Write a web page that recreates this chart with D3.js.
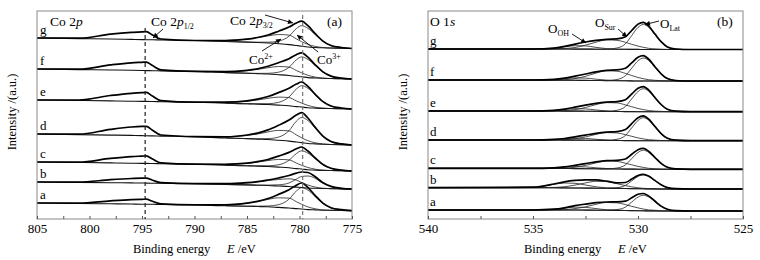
<!DOCTYPE html>
<html>
<head>
<meta charset="utf-8">
<script src="https://cdn.jsdelivr.net/npm/d3@7"></script>
<style>
body { margin: 0; background: #fff; }
text { font-family: "Liberation Serif", "Times New Roman", serif; fill: #000; }
</style>
</head>
<body>
<div id="chart"></div>
<script>
// ---------- data (intensity in a.u., spectra ordered a..g) ----------
var sampleLabels = ["a", "b", "c", "d", "e", "f", "g"];

// Co 2p panel
var coEnergy = [805, 801, 798, 796, 795, 794.6, 794, 793.2, 790, 787, 785, 784, 783, 782, 781, 780.3, 779.8, 779.2, 778.5, 777.8, 777, 776, 775];
var coCompStart = 9; // fitted components start at 787 eV
var coTicks = [805, 800, 795, 790, 785, 780, 775];
var coMinorTicks = [802.5, 797.5, 792.5, 787.5, 782.5, 777.5];
var coDashed = [794.7, 779.7];

var coBackground = [
  [16, 15.5, 15.2, 15, 14.8, 14.8, 14.7, 14.5, 14.2, 13.2, 12.8, 12.5, 12.2, 11.6, 11, 10.4, 10, 9.4, 9.1, 8.8, 8.7, 8.5, 8.3],
  [37, 36.6, 36.3, 36.1, 36, 35.9, 35.8, 35.7, 35.3, 34.5, 34.1, 33.8, 33.5, 33, 32.5, 31.9, 31.5, 31, 30.7, 30.5, 30.4, 30.1, 30],
  [57, 56.5, 56.1, 55.8, 55.6, 55.6, 55.5, 55.3, 54.8, 53.8, 53.2, 52.9, 52.5, 51.9, 51.2, 50.4, 50, 49.3, 48.9, 48.6, 48.5, 48.2, 48],
  [85, 84.3, 83.9, 83.6, 83.4, 83.2, 83.1, 82.9, 82.4, 81, 80.4, 79.9, 79.5, 78.7, 77.9, 77, 76.4, 75.5, 75.1, 74.8, 74.5, 74.2, 74],
  [119, 118.5, 118.1, 117.8, 117.6, 117.6, 117.5, 117.3, 116.8, 115.8, 115.2, 114.9, 114.5, 113.9, 113.2, 112.4, 112, 111.3, 110.9, 110.6, 110.5, 110.2, 110],
  [150, 149.4, 149, 148.7, 148.5, 148.4, 148.3, 148.1, 147.6, 146.4, 145.8, 145.4, 145, 144.3, 143.5, 142.7, 142.2, 141.4, 141, 140.7, 140.5, 140.2, 140],
  [181, 180.4, 180, 179.6, 179.4, 179.3, 179.2, 179, 178.5, 177.5, 176.9, 176.5, 176, 175.3, 174.4, 173.5, 172.8, 172, 171.5, 171.2, 171, 170.7, 170.5]
];
var coEnvelope = [
  [0, 0.3, 3, 4.4, 4.9, 5, 3, 0.6, 0, 1, 3.1, 5.2, 8.3, 13, 18.2, 23.4, 26, 22.1, 14.3, 7.3, 2.6, 0.8, 0],
  [0, 0.3, 3, 4.4, 4.9, 5, 3, 0.6, 0, 0.8, 2.2, 3.5, 5.5, 8, 11, 14, 15.5, 15.5, 11.5, 6, 2.2, 0.6, 0],
  [0, 0.4, 4.5, 6.6, 7.3, 7.5, 4.5, 0.9, 0, 0.9, 2.6, 4.4, 7, 11, 15.4, 19.8, 22, 18.7, 12.1, 6.2, 2.2, 0.7, 0],
  [0, 0.5, 5.7, 8.4, 9.2, 9.5, 5.7, 1.1, 0, 1.2, 3.6, 6, 9.6, 15, 21, 27, 30, 25.5, 16.5, 8.4, 3, 0.9, 0],
  [0, 0.5, 5.4, 7.9, 8.7, 9, 5.4, 1.1, 0, 1, 3, 5, 8, 12.5, 17.5, 22.5, 25, 21.3, 13.8, 7, 2.5, 0.8, 0],
  [0, 0.4, 5.1, 7.5, 8.2, 8.5, 5.1, 1, 0, 1, 2.9, 4.8, 7.7, 12, 16.8, 21.6, 24, 20.4, 13.2, 6.7, 2.4, 0.7, 0],
  [0, 0.4, 4.8, 7, 7.8, 8, 4.8, 1, 0, 1, 3, 5, 8, 12.5, 17.5, 22.5, 25, 21.3, 13.8, 7, 2.5, 0.8, 0]
];
var coCo2 = [
  [1.1, 3, 4.9, 7.4, 9.6, 9.9, 6.9, 4.7, 2.7, 1.1, 0.3, 0, 0, 0],
  [0.7, 2, 3.3, 5, 6.5, 7.7, 7, 5, 3, 1.2, 0.3, 0, 0, 0],
  [0.9, 2.4, 4, 5.9, 7.7, 7.9, 5.5, 3.7, 2.2, 0.9, 0.2, 0, 0, 0],
  [1.1, 3.1, 5.1, 7.6, 9.9, 10.2, 7.1, 4.8, 2.8, 1.1, 0.3, 0, 0, 0],
  [0.9, 2.5, 4.1, 6.2, 8, 8.2, 5.7, 3.9, 2.3, 0.9, 0.2, 0, 0, 0],
  [0.9, 2.6, 4.2, 6.3, 8.2, 8.4, 5.8, 4, 2.3, 0.9, 0.2, 0, 0, 0],
  [1.1, 2.9, 4.8, 7.1, 9.2, 9.5, 6.6, 4.5, 2.6, 1.1, 0.3, 0, 0, 0]
];
var coCo3 = [
  [0, 0, 0.3, 0.8, 2.7, 8.8, 17.6, 21.3, 19.5, 13.3, 6.9, 2.4, 0.5, 0],
  [0, 0, 0.1, 0.4, 1.2, 3.5, 8, 11, 12, 10, 5.5, 2, 0.5, 0],
  [0, 0, 0.2, 0.7, 2.3, 7.5, 15, 18.2, 16.6, 11.4, 5.9, 2.1, 0.5, 0],
  [0, 0, 0.3, 0.9, 3.2, 10.4, 20.8, 25.2, 23, 15.8, 8.2, 2.8, 0.6, 0],
  [0, 0, 0.3, 0.8, 2.7, 8.8, 17.6, 21.3, 19.4, 13.3, 6.9, 2.4, 0.5, 0],
  [0, 0, 0.2, 0.7, 2.5, 8.2, 16.4, 19.9, 18.2, 12.5, 6.5, 2.2, 0.5, 0],
  [0, 0, 0.3, 0.8, 2.6, 8.4, 16.9, 20.5, 18.7, 12.8, 6.7, 2.3, 0.5, 0]
];

// O 1s panel
var oEnergy = [540, 535, 534, 533.5, 533, 532.5, 532, 531.5, 531, 530.6, 530.3, 530, 529.75, 529.5, 529.2, 528.9, 528.6, 528.2, 527.5, 525];
var oTicks = [540, 535, 530, 525];
var oMinorTicks = [537.5, 532.5, 527.5];

var oBackground = [
  [9, 9, 9, 9, 9, 8.9, 8.8, 8.7, 8.6, 8.5, 8.4, 8.3, 8.2, 8.1, 8.1, 8, 8, 8, 8, 8],
  [31.3, 31.3, 31.2, 31.1, 31, 30.9, 30.8, 30.7, 30.6, 30.5, 30.4, 30.3, 30.2, 30.1, 30.1, 30, 30, 30, 30, 30],
  [50.7, 50.7, 50.6, 50.5, 50.4, 50.3, 50.2, 50.1, 50, 49.9, 49.9, 49.8, 49.8, 49.7, 49.7, 49.7, 49.7, 49.7, 49.7, 49.7],
  [79, 79, 79, 78.9, 78.9, 78.8, 78.7, 78.6, 78.5, 78.4, 78.4, 78.3, 78.3, 78.3, 78.3, 78.3, 78.3, 78.3, 78.3, 78.3],
  [108, 108, 108, 107.9, 107.9, 107.8, 107.7, 107.6, 107.5, 107.4, 107.4, 107.3, 107.3, 107.3, 107.3, 107.3, 107.3, 107.3, 107.3, 107.3],
  [139, 139, 138.9, 138.8, 138.7, 138.6, 138.5, 138.4, 138.3, 138.2, 138.1, 138, 138, 138, 138, 138, 138, 138, 138, 138],
  [170, 170, 170, 170, 169.9, 169.9, 169.8, 169.8, 169.7, 169.7, 169.6, 169.6, 169.5, 169.5, 169.5, 169.5, 169.5, 169.5, 169.5, 169.5]
];
var oEnvelope = [
  [0, 0, 0.8, 2.2, 4.3, 6, 7.5, 8.3, 8.5, 9.3, 12.8, 16.4, 17.3, 15, 9.9, 4.9, 1.7, 0.3, 0, 0],
  [0, 0.5, 3.8, 6.1, 7.6, 8.3, 8.3, 7.1, 5.5, 6, 9.5, 13.2, 14.5, 12.9, 8.5, 4.2, 1.4, 0.3, 0, 0],
  [0, 0, 0.6, 1.6, 3.3, 5.1, 6.9, 8.2, 8.7, 10.1, 14.8, 19.5, 20.8, 18.1, 12, 5.9, 2, 0.4, 0, 0],
  [0, 0, 0.6, 1.6, 3.3, 5.1, 6.9, 8.2, 8.9, 11, 17, 23, 24.8, 21.7, 14.4, 7.1, 2.4, 0.5, 0, 0],
  [0, 0, 0.7, 2, 3.9, 6, 8, 9.3, 9.9, 11.8, 17.6, 23.4, 25.1, 21.9, 14.4, 7.2, 2.4, 0.5, 0, 0],
  [0, 0, 0.7, 2, 4.1, 6.4, 8.7, 10.3, 10.8, 12.5, 18.1, 23.7, 25.3, 22, 14.5, 7.2, 2.4, 0.5, 0, 0],
  [0, 0, 0.9, 2.6, 5, 7.1, 8.8, 9.9, 10.4, 12.5, 18.9, 25.3, 27.2, 23.7, 15.7, 7.8, 2.6, 0.5, 0, 0]
];
var oLat = [
  [0, 0, 0, 0, 0, 0, 0, 0, 0.8, 3.4, 8.5, 13.6, 15.5, 14, 9.3, 4.7, 1.6, 0.3, 0, 0],
  [0, 0, 0, 0, 0, 0, 0, 0, 0.7, 3.1, 7.7, 12.3, 14, 12.6, 8.4, 4.2, 1.4, 0.3, 0, 0],
  [0, 0, 0, 0, 0, 0, 0, 0, 1, 4.2, 10.5, 16.7, 19, 17.1, 11.4, 5.7, 1.9, 0.4, 0, 0],
  [0, 0, 0, 0, 0, 0, 0, 0, 1.2, 5.1, 12.7, 20.2, 23, 20.7, 13.8, 6.9, 2.3, 0.5, 0, 0],
  [0, 0, 0, 0, 0, 0, 0, 0, 1.2, 5.1, 12.7, 20.2, 23, 20.7, 13.8, 6.9, 2.3, 0.5, 0, 0],
  [0, 0, 0, 0, 0, 0, 0, 0, 1.2, 5.1, 12.7, 20.2, 23, 20.7, 13.8, 6.9, 2.3, 0.5, 0, 0],
  [0, 0, 0, 0, 0, 0, 0, 0, 1.3, 5.5, 13.8, 22, 25, 22.5, 15, 7.5, 2.5, 0.5, 0, 0]
];
var oSur = [
  [0, 0, 0.1, 0.4, 1.4, 3.3, 5.9, 7.8, 7.6, 5.9, 4.3, 2.8, 1.8, 1, 0.6, 0.2, 0.1, 0, 0, 0],
  [0, 0, 0.4, 1.2, 2.9, 5.2, 6.9, 6.7, 4.7, 2.9, 1.8, 0.9, 0.5, 0.3, 0.1, 0, 0, 0, 0, 0],
  [0, 0, 0.1, 0.4, 1.4, 3.3, 5.9, 7.8, 7.6, 5.9, 4.3, 2.8, 1.8, 1, 0.6, 0.2, 0.1, 0, 0, 0],
  [0, 0, 0.1, 0.4, 1.4, 3.3, 5.9, 7.8, 7.6, 5.9, 4.3, 2.8, 1.8, 1, 0.6, 0.2, 0.1, 0, 0, 0],
  [0, 0, 0.1, 0.5, 1.5, 3.7, 6.7, 8.8, 8.6, 6.7, 4.9, 3.2, 2.1, 1.2, 0.6, 0.3, 0.1, 0, 0, 0],
  [0, 0, 0.1, 0.5, 1.7, 4.1, 7.4, 9.8, 9.5, 7.4, 5.4, 3.5, 2.3, 1.3, 0.7, 0.3, 0.1, 0, 0, 0],
  [0, 0, 0.1, 0.5, 1.6, 3.9, 7, 9.3, 9, 7, 5.1, 3.3, 2.2, 1.2, 0.7, 0.3, 0.1, 0, 0, 0]
];
var oOH = [
  [0, 0, 0.7, 1.8, 2.9, 2.7, 1.6, 0.5, 0.1, 0, 0, 0, 0, 0, 0, 0, 0, 0, 0, 0],
  [0, 0.5, 3.4, 4.9, 4.7, 3.1, 1.4, 0.4, 0.1, 0, 0, 0, 0, 0, 0, 0, 0, 0, 0, 0],
  [0, 0, 0.5, 1.2, 1.9, 1.8, 1, 0.4, 0.1, 0, 0, 0, 0, 0, 0, 0, 0, 0, 0, 0],
  [0, 0, 0.5, 1.2, 1.9, 1.8, 1, 0.4, 0.1, 0, 0, 0, 0, 0, 0, 0, 0, 0, 0, 0],
  [0, 0, 0.6, 1.5, 2.4, 2.3, 1.3, 0.5, 0.1, 0, 0, 0, 0, 0, 0, 0, 0, 0, 0, 0],
  [0, 0, 0.6, 1.5, 2.4, 2.3, 1.3, 0.5, 0.1, 0, 0, 0, 0, 0, 0, 0, 0, 0, 0, 0],
  [0, 0, 0.8, 2.1, 3.4, 3.2, 1.8, 0.6, 0.1, 0, 0, 0, 0, 0, 0, 0, 0, 0, 0, 0]
];

// ---------- layout ----------
var plotTop = 11, plotBottom = 219;
var serif = "Liberation Serif, Times New Roman, serif";

var svg = d3.select("#chart").append("svg")
	.attr("width", 760)
	.attr("height", 260);

svg.append("defs").append("marker")
	.attr("id", "arrow")
	.attr("viewBox", "0 0 10 10")
	.attr("refX", 10).attr("refY", 5)
	.attr("markerWidth", 7).attr("markerHeight", 5)
	.attr("markerUnits", "userSpaceOnUse")
	.attr("orient", "auto")
.append("path")
	.attr("d", "M0,0L10,5L0,10z")
	.attr("fill", "#000");

var y = d3.scaleLinear().domain([0, 208]).range([plotBottom, plotTop]);

var line = d3.line().curve(d3.curveMonotoneX);

function drawPanel(p) {
	var x = d3.scaleLinear().domain(p.domain).range([p.left, p.right]);
	var g = svg.append("g");

	// spectra
	sampleLabels.forEach(function(lab, i) {
		var bg = p.bg[i];
		var bgPts = p.energy.map(function(e, j) { return [x(e), y(bg[j])]; });
		g.append("path").attr("d", line(bgPts))
			.attr("fill", "none").attr("stroke", "#111").attr("stroke-width", 1.1);

		p.comps.forEach(function(comp) {
			var pts = comp[i].map(function(v, j) {
				var k = j + p.compStart;
				return [x(p.energy[k]), y(bg[k] + v)];
			});
			g.append("path").attr("d", line(pts))
				.attr("fill", "none").attr("stroke", "#222").attr("stroke-width", 0.8);
		});

		var envPts = p.energy.map(function(e, j) { return [x(e), y(bg[j] + p.env[i][j])]; });
		g.append("path").attr("d", line(envPts))
			.attr("fill", "none").attr("stroke", "#000").attr("stroke-width", 1.7);

		g.append("text")
			.attr("x", p.left + p.labelDx)
			.attr("y", y(bg[0]) - 4)
			.attr("font-size", "13px")
			.text(lab);
	});

	// frame
	g.append("rect")
		.attr("x", p.left).attr("y", plotTop)
		.attr("width", p.right - p.left).attr("height", plotBottom - plotTop)
		.attr("fill", "none").attr("stroke", "#8a8a8a").attr("stroke-width", 1);

	// axes
	var xAxisCall = d3.axisBottom(x).tickValues(p.ticks)
		.tickSizeInner(-3).tickSizeOuter(0).tickPadding(5)
		.tickFormat(d3.format("d"));
	var xAxisGroup = g.append("g")
		.attr("transform", "translate(0," + plotBottom + ")")
		.call(xAxisCall);
	xAxisGroup.select(".domain").remove();
	xAxisGroup.selectAll("line").attr("stroke", "#555");
	xAxisGroup.selectAll("text")
		.attr("font-family", serif)
		.attr("font-size", "13px").attr("fill", "#000");

	var minorCall = d3.axisBottom(x).tickValues(p.minor)
		.tickSizeInner(-3).tickSizeOuter(0).tickFormat("");
	var minorGroup = g.append("g")
		.attr("transform", "translate(0," + plotBottom + ")")
		.call(minorCall);
	minorGroup.select(".domain").remove();
	minorGroup.selectAll("line").attr("stroke", "#555");

	// axis titles
	var xt = g.append("text")
		.attr("x", p.left + 96)
		.attr("y", 253)
		.attr("font-size", "12.5px");
	xt.append("tspan").text("Binding energy");
	xt.append("tspan").attr("x", p.left + 190).attr("font-style", "italic").text("E");
	xt.append("tspan").text(" /eV");

	g.append("text")
		.attr("transform", "translate(" + (p.left - 21) + ",112) rotate(-90)")
		.attr("text-anchor", "middle")
		.attr("font-size", "12.5px")
		.text("Intensity /(a.u.)");

	return {x: x, g: g};
}

function arrow(g, x1, y1, x2, y2) {
	g.append("line")
		.attr("x1", x1).attr("y1", y1).attr("x2", x2).attr("y2", y2)
		.attr("stroke", "#000").attr("stroke-width", 0.9)
		.attr("marker-end", "url(#arrow)");
}

function label(g, px, py, main, sub, italic, supMode, size) {
	var t = g.append("text").attr("x", px).attr("y", py).attr("font-size", (size || 13.5) + "px");
	t.append("tspan").text(main);
	if (italic) t.append("tspan").attr("font-style", "italic").text(italic);
	if (sub) {
		t.append("tspan")
			.attr("font-size", "8px")
			.attr("dy", supMode ? -5 : 3)
			.text(sub);
	}
	return t;
}

// ---------- panel (a): Co 2p ----------
var pa = drawPanel({
	left: 37, right: 352, domain: [805, 775],
	energy: coEnergy, bg: coBackground, env: coEnvelope,
	comps: [coCo2, coCo3], compStart: coCompStart,
	ticks: coTicks, minor: coMinorTicks, labelDx: 3
});

coDashed.forEach(function(e, i) {
	pa.g.append("line")
		.attr("x1", pa.x(e)).attr("x2", pa.x(e))
		.attr("y1", i === 0 ? 28 : 15).attr("y2", plotBottom)
		.attr("stroke", i === 0 ? "#222" : "#777")
		.attr("stroke-width", 1.2)
		.attr("stroke-dasharray", "4,3");
});

label(pa.g, 50, 26, "Co 2", null, "p");
label(pa.g, 151, 26, "Co 2", "1/2", "p");
label(pa.g, 230, 25, "Co 2", "3/2", "p");
label(pa.g, 249, 64, "Co", "2+", null, true, 13);
label(pa.g, 317, 64, "Co", "3+", null, true, 13);
pa.g.append("text").attr("x", 327).attr("y", 26).attr("font-size", "13.5px").text("(a)");

arrow(pa.g, 163, 29, 153, 38);
arrow(pa.g, 265, 15, 293, 23);
arrow(pa.g, 262, 51, 281, 39);
arrow(pa.g, 318, 52, 297, 35);

// ---------- panel (b): O 1s ----------
var pb = drawPanel({
	left: 428, right: 743, domain: [540, 525],
	energy: oEnergy, bg: oBackground, env: oEnvelope,
	comps: [oOH, oSur, oLat], compStart: 0,
	ticks: oTicks, minor: oMinorTicks, labelDx: 2
});

label(pb.g, 430, 26, "O 1", null, "s");
label(pb.g, 548, 33, "O", "OH", null, false, 13);
label(pb.g, 595, 27, "O", "Sur", null, false, 13);
label(pb.g, 660, 28, "O", "Lat", null, false, 13);
pb.g.append("text").attr("x", 717).attr("y", 26).attr("font-size", "13.5px").text("(b)");

arrow(pb.g, 572, 34, 586, 43);
arrow(pb.g, 618, 29, 627, 37);
arrow(pb.g, 659, 21, 645, 24.5);
</script>
</body>
</html>
